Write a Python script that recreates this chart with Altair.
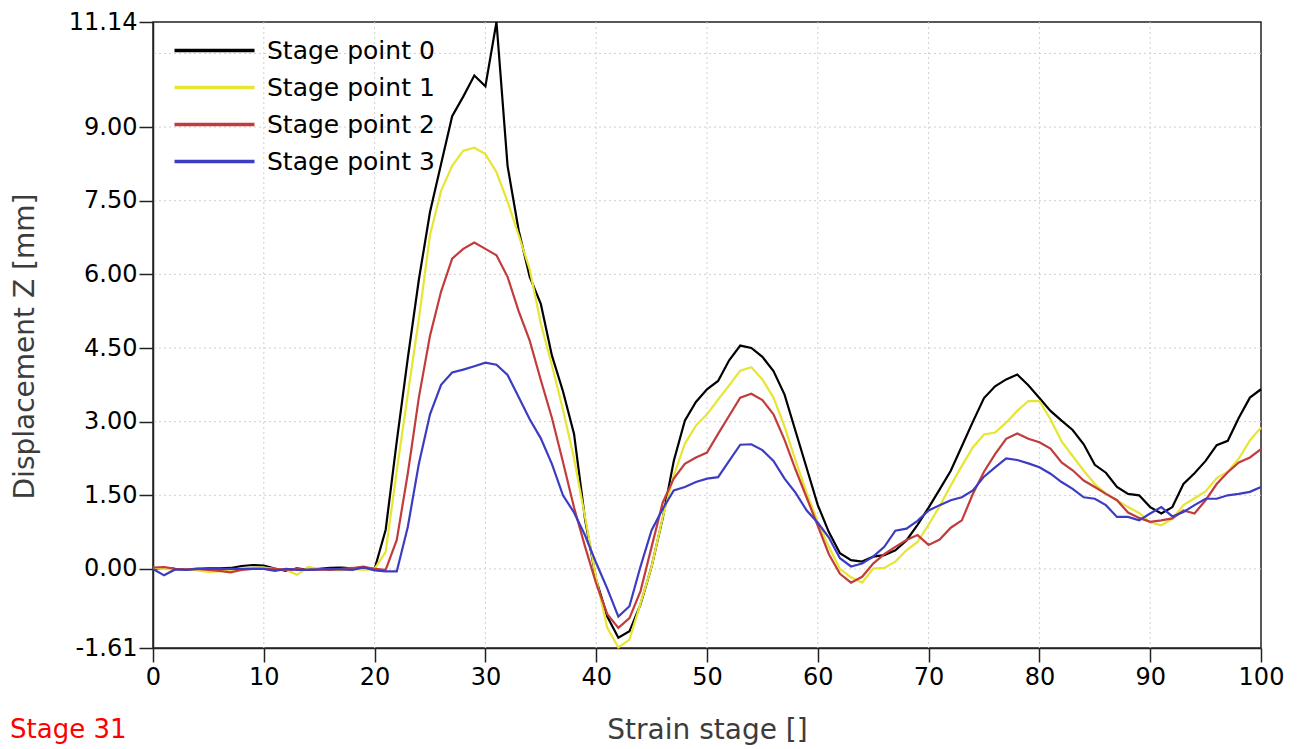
import altair as alt
import pandas as pd

stages = list(range(0, 101))
series_names = ["Stage point 0", "Stage point 1", "Stage point 2", "Stage point 3"]
series_colors = ["#000000", "#e6e632", "#c33c3c", "#3c3cc3"]

point0 = [0.00, 0.02, 0.00, -0.01, 0.00, 0.01, 0.01, 0.02, 0.06, 0.08,
          0.07, 0.01, -0.04, 0.01, -0.02, 0.00, 0.02, 0.03, 0.01, 0.01,
          0.00, 0.80, 2.60, 4.30, 5.90, 7.27, 8.25, 9.22, 9.62, 10.05,
          9.83, 11.14, 8.21, 6.90, 5.95, 5.40, 4.35, 3.62, 2.75, 1.00,
          -0.22, -0.97, -1.40, -1.27, -0.72, 0.05, 1.03, 2.20, 3.02, 3.40,
          3.66, 3.83, 4.25, 4.55, 4.50, 4.32, 4.03, 3.55, 2.80, 2.05,
          1.30, 0.75, 0.32, 0.18, 0.15, 0.25, 0.28, 0.38, 0.58, 0.90,
          1.25, 1.62, 2.00, 2.50, 3.00, 3.48, 3.72, 3.86, 3.96, 3.74,
          3.48, 3.22, 3.02, 2.83, 2.54, 2.12, 1.96, 1.67, 1.53, 1.50,
          1.26, 1.13, 1.26, 1.73, 1.95, 2.20, 2.52, 2.61, 3.08, 3.49,
          3.66]

point1 = [0.02, 0.00, -0.02, 0.00, -0.03, -0.06, -0.05, -0.02, 0.00, 0.02,
          0.03, 0.00, -0.02, -0.12, 0.04, 0.00, -0.02, -0.03, 0.00, -0.02,
          0.00, 0.35, 2.00, 3.56, 5.10, 6.80, 7.70, 8.21, 8.52, 8.58,
          8.45, 8.08, 7.48, 6.80, 6.10, 5.00, 4.15, 3.25, 2.25, 1.05,
          -0.20, -1.20, -1.60, -1.44, -0.70, 0.05, 1.05, 1.90, 2.55, 2.92,
          3.15, 3.45, 3.74, 4.04, 4.11, 3.86, 3.49, 2.90, 2.20, 1.55,
          0.95, 0.45, 0.00, -0.17, -0.28, 0.01, 0.02, 0.15, 0.38, 0.55,
          0.90, 1.28, 1.70, 2.10, 2.48, 2.74, 2.78, 2.98, 3.22, 3.42,
          3.42, 3.05, 2.60, 2.30, 2.00, 1.73, 1.54, 1.40, 1.26, 1.14,
          0.95, 0.89, 1.02, 1.30, 1.44, 1.58, 1.85, 1.98, 2.25, 2.62,
          2.88]

point2 = [0.03, 0.04, 0.00, -0.01, 0.00, -0.02, -0.04, -0.07, -0.02, 0.00,
          0.00, 0.00, -0.02, 0.00, -0.02, -0.01, -0.02, 0.00, 0.02, 0.05,
          0.00, -0.02, 0.59, 1.95, 3.50, 4.75, 5.65, 6.32, 6.52, 6.65,
          6.52, 6.39, 5.95, 5.25, 4.65, 3.85, 3.08, 2.18, 1.25, 0.45,
          -0.30, -0.92, -1.20, -1.00, -0.45, 0.45, 1.35, 1.84, 2.14, 2.27,
          2.37, 2.75, 3.12, 3.49, 3.57, 3.44, 3.15, 2.63, 2.02, 1.45,
          0.88, 0.30, -0.10, -0.28, -0.16, 0.11, 0.30, 0.45, 0.59, 0.69,
          0.49, 0.60, 0.84, 0.99, 1.53, 1.98, 2.34, 2.65, 2.76, 2.65,
          2.58, 2.45, 2.17, 2.01, 1.80, 1.67, 1.53, 1.40, 1.15, 1.04,
          0.96, 0.99, 1.03, 1.19, 1.13, 1.40, 1.73, 1.97, 2.17, 2.27,
          2.44]

point3 = [0.00, -0.13, -0.01, -0.02, 0.00, 0.00, 0.00, 0.00, 0.00, 0.00,
          0.00, -0.04, 0.00, -0.02, -0.02, -0.01, 0.00, -0.01, -0.02, 0.03,
          -0.03, -0.05, -0.05, 0.86, 2.15, 3.15, 3.75, 4.00, 4.06, 4.13,
          4.20, 4.16, 3.95, 3.50, 3.05, 2.66, 2.14, 1.50, 1.15, 0.68,
          0.12, -0.40, -0.97, -0.76, 0.05, 0.79, 1.22, 1.60, 1.67, 1.77,
          1.84, 1.87, 2.20, 2.53, 2.54, 2.42, 2.20, 1.84, 1.55, 1.19,
          0.94, 0.64, 0.22, 0.05, 0.11, 0.25, 0.45, 0.78, 0.82, 0.98,
          1.19, 1.30, 1.40, 1.46, 1.60, 1.88, 2.07, 2.25, 2.22, 2.15,
          2.07, 1.94, 1.77, 1.63, 1.46, 1.43, 1.30, 1.06, 1.06, 0.99,
          1.13, 1.26, 1.07, 1.16, 1.30, 1.43, 1.43, 1.50, 1.53, 1.57,
          1.67]

y_tick_values = [-1.61, 0.0, 1.5, 3.0, 4.5, 6.0, 7.5, 9.0, 11.14]
y_grid_values = [0.0, 1.5, 3.0, 4.5, 6.0, 7.5, 9.0, 10.5]
x_tick_values = [0, 10, 20, 30, 40, 50, 60, 70, 80, 90, 100]
x_grid_values = [10, 20, 30, 40, 50, 60, 70, 80, 90]
annotation = ["Stage 31"]

FONT = "DejaVu Sans"

rows = []
for name, vals in zip(series_names, [point0, point1, point2, point3]):
    for s, v in zip(stages, vals):
        rows.append({"stage": s, "value": v, "series": name})
df = pd.DataFrame(rows)

x_scale = alt.Scale(domain=[0, 100], nice=False, zero=False)
y_scale = alt.Scale(domain=[-1.61, 11.14], nice=False, zero=False)

x_axis = alt.Axis(values=x_tick_values, format="d", title="Strain stage []",
                  grid=False, labelFlush=False, labelOverlap=False,
                  tickSize=14, labelPadding=3, titlePadding=27)
y_axis = alt.Axis(values=y_tick_values, format=".2f", title="Displacement Z [mm]",
                  labelExpr="replace(datum.label, '\u2212', '-')",
                  grid=False, labelFlush=False, labelOverlap=False,
                  tickSize=14, labelPadding=2, titleX=-114, titleY=324)

ygrid = alt.Chart(pd.DataFrame({"g": y_grid_values})).mark_rule(
    color="#cfcfcf", strokeWidth=1, strokeDash=[2, 3]
).encode(y=alt.Y("g:Q", scale=y_scale, axis=y_axis))

xgrid = alt.Chart(pd.DataFrame({"g": x_grid_values})).mark_rule(
    color="#cfcfcf", strokeWidth=1, strokeDash=[2, 3]
).encode(x=alt.X("g:Q", scale=x_scale, axis=x_axis))

lines = alt.Chart(df).mark_line(strokeWidth=2.2).encode(
    x=alt.X("stage:Q", scale=x_scale, axis=x_axis),
    y=alt.Y("value:Q", scale=y_scale, axis=y_axis),
    color=alt.Color("series:N",
                    scale=alt.Scale(domain=series_names, range=series_colors),
                    legend=alt.Legend(title=None, orient="none", legendX=22, legendY=16,
                                      symbolType="M-4,0H4", symbolSize=400,
                                      symbolStrokeWidth=3.5, symbolOffset=27,
                                      labelOffset=40, labelFontSize=25, labelFont=FONT,
                                      labelColor="black", rowPadding=11, padding=0,
                                      labelLimit=400)),
)

note = alt.Chart(pd.DataFrame({"label": annotation})).mark_text(
    align="left", baseline="top", color="#ff0000", fontSize=26, font=FONT
).encode(text="label:N", x=alt.value(-143), y=alt.value(695))

chart = alt.layer(ygrid, xgrid, lines, note).properties(
    width=1108, height=626,
    autosize=alt.AutoSizeParams(type="none"),
    padding={"left": 145, "top": 14, "right": 30, "bottom": 100},
).configure_view(
    stroke="#222222", strokeWidth=1.5
).configure_axis(
    labelFont=FONT, labelFontSize=24, labelColor="black",
    titleFont=FONT, titleFontSize=28, titleFontWeight="normal", titleColor="#3c3c3c",
    domainColor="#222222", domainWidth=1.5, tickColor="#222222", tickWidth=1.5,
)

chart.save("out.html", embed_options={"renderer": "svg", "actions": False})
